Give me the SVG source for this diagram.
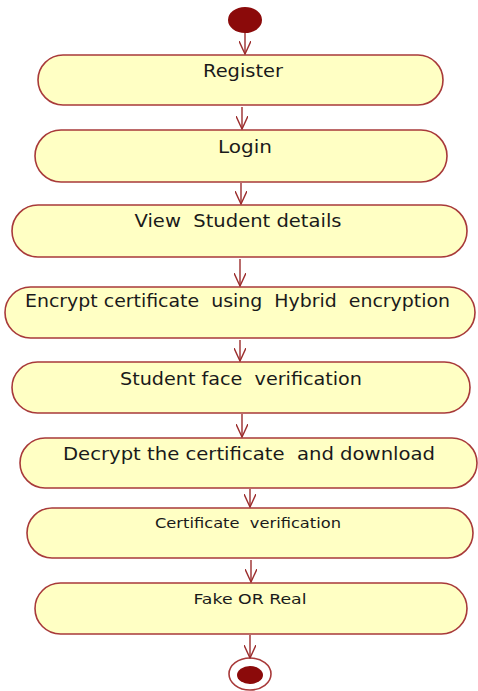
<svg xmlns="http://www.w3.org/2000/svg" width="478" height="691" viewBox="0 0 478 691">
<defs>
<marker id="arr" viewBox="0 0 14 12" refX="13" refY="6" markerWidth="14" markerHeight="12" markerUnits="userSpaceOnUse" orient="auto">
<path d="M0,0 L13,6 L0,12" fill="none" stroke="#9b2d2d" stroke-width="1.4"/>
</marker>
</defs>
<style>
.node rect{fill:#ffffc4;stroke:#a83a3a;stroke-width:1.6}
.node text{font-family:"DejaVu Sans",Verdana,sans-serif;fill:#1a1a1a;text-anchor:middle;white-space:pre}
.big{font-size:17.5px}
.small{font-size:14px}
#connectors line{stroke:#9b2d2d;stroke-width:1.4;marker-end:url(#arr)}
</style>
<g id="start"><ellipse cx="245" cy="20" rx="17" ry="13" fill="#8b0a0a"/></g>
<g id="register" class="node"><rect x="38" y="55" width="405" height="50" rx="25"/><text class="big" x="243" y="77" textLength="80" lengthAdjust="spacingAndGlyphs">Register</text></g>
<g id="login" class="node"><rect x="35" y="130" width="412" height="52" rx="26"/><text class="big" x="245" y="153" textLength="54" lengthAdjust="spacingAndGlyphs">Login</text></g>
<g id="view" class="node"><rect x="12" y="205" width="455" height="52" rx="26"/><text class="big" x="238" y="227" textLength="207" lengthAdjust="spacingAndGlyphs">View  Student details</text></g>
<g id="encrypt" class="node"><rect x="5" y="287" width="470" height="51" rx="25.5"/><text class="big" x="237.5" y="307" textLength="425" lengthAdjust="spacingAndGlyphs">Encrypt certificate  using  Hybrid  encryption</text></g>
<g id="face" class="node"><rect x="12" y="362" width="458" height="51" rx="25.5"/><text class="big" x="241" y="385" textLength="242" lengthAdjust="spacingAndGlyphs">Student face  verification</text></g>
<g id="decrypt" class="node"><rect x="20" y="438" width="457" height="50" rx="25"/><text class="big" x="249" y="460" textLength="372" lengthAdjust="spacingAndGlyphs">Decrypt the certificate  and download</text></g>
<g id="certver" class="node"><rect x="27" y="508" width="446" height="50" rx="25"/><text class="small" x="248" y="528" textLength="186" lengthAdjust="spacingAndGlyphs">Certificate  verification</text></g>
<g id="fake" class="node"><rect x="35" y="583" width="432" height="51" rx="25.5"/><text class="small" x="250" y="604" textLength="113" lengthAdjust="spacingAndGlyphs">Fake OR Real</text></g>
<g id="end"><ellipse cx="250" cy="674" rx="21" ry="16" fill="#fff" stroke="#a83a3a" stroke-width="1.6"/><ellipse cx="250" cy="675" rx="13" ry="9" fill="#8b0a0a"/></g>
<g id="connectors">
<line x1="245" y1="33" x2="245" y2="54"/>
<line x1="242" y1="107" x2="242" y2="129"/>
<line x1="241" y1="183" x2="241" y2="204"/>
<line x1="240" y1="259" x2="240" y2="286"/>
<line x1="240" y1="340" x2="240" y2="361"/>
<line x1="242" y1="414" x2="242" y2="437"/>
<line x1="250" y1="489" x2="250" y2="507"/>
<line x1="251" y1="560" x2="251" y2="582"/>
<line x1="250" y1="635" x2="250" y2="658"/>
</g>
</svg>
